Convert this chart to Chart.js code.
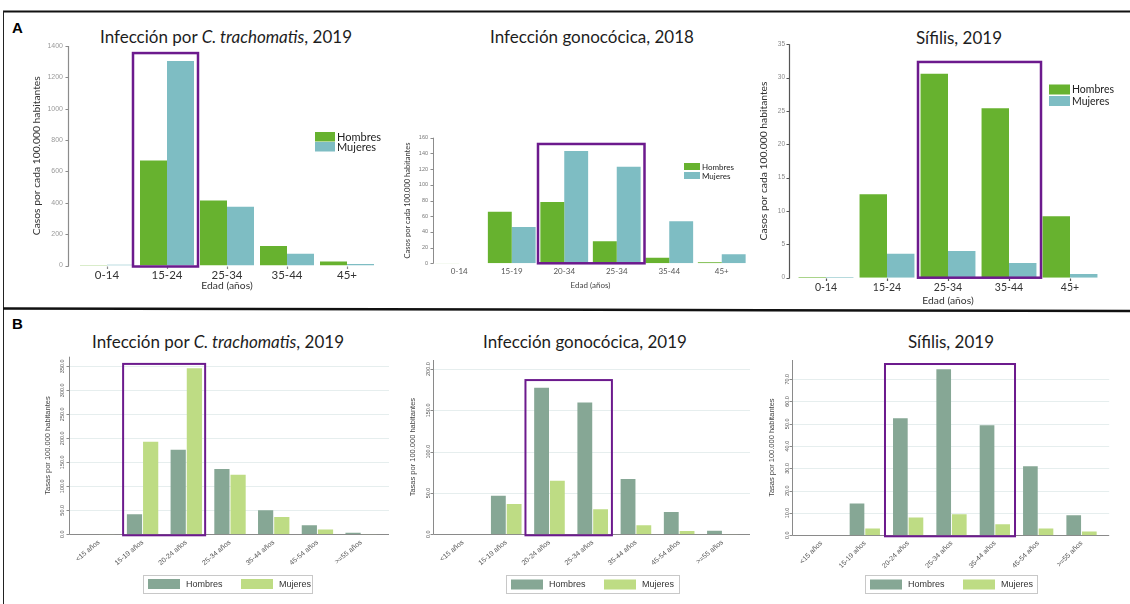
<!DOCTYPE html>
<html>
<head>
<meta charset="utf-8">
<script src="https://cdn.jsdelivr.net/npm/chart.js@4.4.1/dist/chart.umd.min.js"></script>
<style>
  html, body { margin: 0; padding: 0; background: #fff; }
  #fig { position: relative; width: 1130px; height: 604px; overflow: hidden; background: #fff; }
  #fig canvas { position: absolute; }
  .ttl { position: absolute; transform: translate(-50%, -50%); white-space: nowrap;
         font-family: Lato, "Open Sans", sans-serif; font-size: 17px; line-height: 1; color: #1d1d1d; }
  .tag { position: absolute; font-family: "Liberation Sans", Arial, sans-serif; font-weight: bold;
         font-size: 15px; line-height: 1; color: #000; }
</style>
</head>
<body>
<div id="fig">
  <svg width="1130" height="604" style="position:absolute;left:0;top:0">
    <line x1="3" y1="11.5" x2="1130" y2="11.5" stroke="#111" stroke-width="2"/>
    <line x1="3.5" y1="11" x2="3.5" y2="604" stroke="#222" stroke-width="1"/>
    <line x1="3" y1="308.5" x2="1130" y2="311" stroke="#111" stroke-width="2.5"/>
  </svg>
  <div class="tag" style="left:12px;top:20px">A</div>
  <div class="tag" style="left:12px;top:316px">B</div>
  <div class="ttl" style="left:226px;top:36px">Infección por <i>C. trachomatis</i>, 2019</div>
  <div class="ttl" style="left:592px;top:36px">Infección gonocócica, 2018</div>
  <div class="ttl" style="left:959px;top:37px">Sífilis, 2019</div>
  <div class="ttl" style="left:218px;top:341px">Infección por <i>C. trachomatis</i>, 2019</div>
  <div class="ttl" style="left:585px;top:341px">Infección gonocócica, 2019</div>
  <div class="ttl" style="left:951px;top:341px">Sífilis, 2019</div>
</div>
<script>
// ---- age groups ----
const edadCT_A  = ['0-14', '15-24', '25-34', '35-44', '45+'];
const edadNG_A  = ['0-14', '15-19', '20-34', '25-34', '35-44', '45+'];
const edadSif_A = ['0-14', '15-24', '25-34', '35-44', '45+'];
const edadB     = ['<15 años', '15-19 años', '20-24 años', '25-34 años', '35-44 años', '45-54 años', '>=55 años'];

// ---- A: casos por cada 100.000 habitantes ----
const ctA_hombres  = [3, 670, 415, 125, 25];
const ctA_mujeres  = [5, 1305, 375, 75, 10];
const ngA_hombres  = [0.5, 65.7, 78, 28, 7.2, 1.3];
const ngA_mujeres  = [0.2, 46.2, 143, 123, 53.5, 11.5];
const sifA_hombres = [0.1, 12.5, 30.6, 25.4, 9.2];
const sifA_mujeres = [0.1, 3.6, 4.0, 2.2, 0.55];

// ---- B: tasas por 100.000 habitantes ----
const ctB_hombres  = [0, 42, 176, 136, 50, 19, 3];
const ctB_mujeres  = [0.5, 193, 346, 124, 36, 10, 0.8];
const ngB_hombres  = [0, 46.7, 177.4, 159.7, 66.9, 27, 4.4];
const ngB_mujeres  = [0, 36.7, 64.9, 30.2, 10.9, 4, 0.5];
const sifB_hombres = [0, 14.3, 52.5, 74.5, 49.3, 31, 9];
const sifB_mujeres = [0, 3.1, 8, 9.4, 4.9, 3.1, 1.7];

// ---- y tick steps (ticks run from 0 by this step) ----
const pasoCT_A = 200, pasoNG_A = 20, pasoSif_A = 5;
const pasoCT_B = 50,  pasoNG_B = 50, pasoSif_B = 10;

// ---- highlighted age ranges ----
const focoCT_A  = ['15-24', '15-24'];
const focoNG_A  = ['20-34', '25-34'];
const focoSif_A = ['25-34', '35-44'];
const focoCT_B  = ['15-19 años', '20-24 años'];
const focoNG_B  = ['20-24 años', '25-34 años'];
const focoSif_B = ['20-24 años', '35-44 años'];

const COLORS_A = ['#67b22f', '#7ebdc3'];
const COLORS_B = ['#86a795', '#bedc84'];
const PURPLE = '#6c1a8d';

// Axis lines, tick marks and grid drawn slightly detached from the first category
const axisFrame = {
  id: 'axisFrame',
  beforeDatasetsDraw(chart, args, o) {
    const { ctx, chartArea: ca, scales: { x, y } } = chart;
    const ax = Math.round(ca.left - o.gap) + 0.5;
    const y0 = Math.round(y.getPixelForValue(0)) + 0.5;
    const right = ca.right + o.xExtra;
    ctx.save();
    if (o.gridColor) {
      ctx.strokeStyle = o.gridColor; ctx.lineWidth = 1;
      y.ticks.forEach(t => {
        if (t.value === 0) return;
        const py = Math.round(y.getPixelForValue(t.value)) + 0.5;
        ctx.beginPath(); ctx.moveTo(ax, py); ctx.lineTo(right, py); ctx.stroke();
      });
    }
    ctx.strokeStyle = o.color; ctx.lineWidth = o.width;
    ctx.beginPath();
    ctx.moveTo(ax, ca.top); ctx.lineTo(ax, y0);
    if (o.tickLen) y.ticks.forEach(t => {
      const py = Math.round(y.getPixelForValue(t.value)) + 0.5;
      ctx.moveTo(ax - o.tickLen, py); ctx.lineTo(ax, py);
    });
    if (o.xLine) { ctx.moveTo(ax, y0); ctx.lineTo(right, y0); }
    if (o.xTickLen) x.ticks.forEach((t, i) => {
      const px = Math.round(x.getPixelForValue(i)) + 0.5;
      ctx.moveTo(px, y0); ctx.lineTo(px, y0 + o.xTickLen);
    });
    ctx.stroke();
    ctx.restore();
  }
};

// Frame around a range of age groups
const ageBox = {
  id: 'ageBox',
  afterDatasetsDraw(chart, args, o) {
    const { ctx, scales: { x, y } } = chart;
    const labels = chart.data.labels;
    const i0 = labels.indexOf(o.range[0]), i1 = labels.indexOf(o.range[1]);
    const half = (x.getPixelForValue(1) - x.getPixelForValue(0)) / 2;
    const left = x.getPixelForValue(i0) - half + o.inset[0];
    const right = x.getPixelForValue(i1) + half + o.inset[1];
    const top = y.getPixelForValue(o.top);
    const bottom = y.getPixelForValue(0) + o.below;
    ctx.save();
    ctx.strokeStyle = o.color; ctx.lineWidth = o.width;
    ctx.strokeRect(left, top, right - left, bottom - top);
    ctx.restore();
  }
};

// Legend built from the datasets: stacked swatches (A) or boxed row (B)
const sexLegend = {
  id: 'sexLegend',
  afterDraw(chart, args, o) {
    const { ctx } = chart;
    const ds = chart.data.datasets;
    ctx.save();
    ctx.font = o.font;
    ctx.fillStyle = o.textColor;
    ctx.textBaseline = 'middle';
    if (o.kind === 'stack') {
      const x = o.x - o.ox, y = o.y - o.oy;
      ds.forEach((d, i) => {
        const yy = y + i * (o.sh + o.gap);
        ctx.fillStyle = d.backgroundColor;
        ctx.fillRect(x, yy, o.sw, o.sh);
        ctx.fillStyle = o.textColor;
        ctx.fillText(d.label, x + o.sw + 2, yy + o.sh / 2 + 0.5);
      });
    } else {
      const bx = o.x - o.ox, by = o.y - o.oy;
      ctx.strokeStyle = o.boxColor; ctx.lineWidth = 1;
      ctx.strokeRect(Math.round(bx) + 0.5, Math.round(by) + 0.5, o.w, o.h);
      ds.forEach((d, i) => {
        const sx = bx + 5 + i * o.step;
        const sy = by + (o.h - o.sh) / 2 + 0.5;
        ctx.fillStyle = d.backgroundColor;
        ctx.fillRect(sx, sy, o.sw, o.sh);
        ctx.fillStyle = o.textColor;
        ctx.fillText(d.label, sx + o.sw + 6, by + o.h / 2 + 1);
      });
    }
    ctx.restore();
  }
};

function addCanvas(box) {
  const c = document.createElement('canvas');
  c.width = box[2]; c.height = box[3];
  c.style.left = box[0] + 'px'; c.style.top = box[1] + 'px';
  c.style.width = box[2] + 'px'; c.style.height = box[3] + 'px';
  document.getElementById('fig').appendChild(c);
  return c;
}

function buildChart(s) {
  const canvas = addCanvas(s.box);
  const step = s.step;
  const legend = Object.assign({ ox: s.box[0], oy: s.box[1] }, s.legend);
  return new Chart(canvas, {
    type: 'bar',
    data: {
      labels: s.labels,
      datasets: [
        { label: 'Hombres', data: s.hombres, backgroundColor: s.colors[0],
          categoryPercentage: s.catPct, barPercentage: s.barPct },
        { label: 'Mujeres', data: s.mujeres, backgroundColor: s.colors[1],
          categoryPercentage: s.catPct, barPercentage: s.barPct }
      ]
    },
    options: {
      responsive: false, animation: false, devicePixelRatio: 1, events: [],
      layout: { padding: s.pad },
      plugins: {
        legend: { display: false }, tooltip: { enabled: false },
        axisFrame: s.frame, ageBox: s.box2, sexLegend: legend
      },
      scales: {
        x: {
          grid: { display: false, drawTicks: false }, border: { display: false },
          ticks: Object.assign({ autoSkip: false }, s.xTicks),
          title: s.xTitle ? s.xTitle : { display: false },
          afterFit: sc => {
            sc.height = s.xH;
            sc.paddingLeft = 0; sc.paddingRight = 0;
          }
        },
        y: {
          min: 0, max: s.yMax,
          grid: { display: false, drawTicks: false }, border: { display: false },
          ticks: Object.assign({ autoSkip: false }, s.yTicks),
          title: s.yTitle,
          // ticks only at whole steps from zero, never at the axis end
          afterBuildTicks: sc => {
            const ticks = [];
            for (let v = 0; v <= s.yMax + 1e-9; v += step) ticks.push({ value: v });
            sc.ticks = ticks;
          },
          afterFit: sc => {
            sc.width = s.yW;
            sc.paddingTop = 0; sc.paddingBottom = 0;
          }
        }
      }
    },
    plugins: [axisFrame, ageBox, sexLegend]
  });
}

const LATO = 'Lato, "Open Sans", sans-serif';
const ARIAL = '"Liberation Sans", Arial, sans-serif';
const fmt0 = v => String(v);
const fmt1 = v => Number(v).toFixed(1);

// ---------- A1: C. trachomatis ----------
buildChart({
  box: [0, 40, 390, 262], pad: { top: 6, right: 13, left: 0, bottom: 0 },
  labels: edadCT_A, hombres: ctA_hombres, mujeres: ctA_mujeres, colors: COLORS_A,
  catPct: 0.9, barPct: 1.0, yMax: 1400, step: pasoCT_A, yW: 77, xH: 36.5,
  yTicks: { font: { family: ARIAL, size: 7 }, color: '#9a9a9a', padding: 14, callback: fmt0 },
  yTitle: { display: true, text: 'Casos por cada 100.000 habitantes', color: '#333',
            font: { family: LATO, size: 10.3 }, padding: { top: 30.8, bottom: 0 } },
  xTicks: { font: { family: LATO, size: 11.5 }, color: '#333', padding: 2.5 },
  xTitle: { display: true, text: 'Edad (años)', color: '#333',
            font: { family: LATO, size: 10.3 }, padding: { top: 0, bottom: 9.8 } },
  frame: { gap: 9, color: '#8c8c8c', width: 1.2, tickLen: 3, xLine: false, xTickLen: 2.5, xExtra: 0 },
  box2: { range: focoCT_A, inset: [-4, 1], top: 1355, below: 1, color: PURPLE, width: 2.5 },
  legend: { kind: 'stack', x: 315, y: 132, sw: 20, sh: 9.5, gap: 0.5,
            font: '11px ' + LATO, textColor: '#222' }
});

// ---------- A2: gonococo 2018 ----------
buildChart({
  box: [390, 100, 370, 202], pad: { top: 37.7, right: 12, left: 0, bottom: 0 },
  labels: edadNG_A, hombres: ngA_hombres, mujeres: ngA_mujeres, colors: COLORS_A,
  catPct: 0.91, barPct: 1.0, yMax: 160, step: pasoNG_A, yW: 43, xH: 38.7,
  yTicks: { font: { family: ARIAL, size: 5.5 }, color: '#777', padding: 5, callback: fmt0 },
  yTitle: { display: true, text: 'Casos por cada 100.000 habitantes', color: '#333',
            font: { family: LATO, size: 7.5 }, padding: { top: 13.5, bottom: 0 } },
  xTicks: { font: { family: LATO, size: 8 }, color: '#555', padding: 3 },
  xTitle: { display: true, text: 'Edad (años)', color: '#444',
            font: { family: LATO, size: 8 }, padding: { top: 0, bottom: 12.2 } },
  frame: { gap: 0, color: '#8c8c8c', width: 1, tickLen: 3, xLine: false, xTickLen: 0, xExtra: 0 },
  box2: { range: focoNG_A, inset: [0, 1.5], top: 152, below: 0, color: PURPLE, width: 2.5 },
  legend: { kind: 'stack', x: 684, y: 163, sw: 16, sh: 7, gap: 2,
            font: '8px ' + LATO, textColor: '#222' }
});

// ---------- A3: sífilis 2019 ----------
buildChart({
  box: [755, 40, 375, 270], pad: { top: 4.3, right: 29.5, left: 0, bottom: 0 },
  labels: edadSif_A, hombres: sifA_hombres, mujeres: sifA_mujeres, colors: COLORS_A,
  catPct: 0.9, barPct: 1.0, yMax: 35, step: pasoSif_A, yW: 40.5, xH: 32.3,
  yTicks: { font: { family: ARIAL, size: 6.5 }, color: '#8a8a8a', padding: 10.5, callback: fmt0 },
  yTitle: { display: true, text: 'Casos por cada 100.000 habitantes', color: '#333',
            font: { family: LATO, size: 10.3 }, padding: { top: 2.8, bottom: 0 } },
  xTicks: { font: { family: LATO, size: 10.5 }, color: '#333', padding: 3.5 },
  xTitle: { display: true, text: 'Edad (años)', color: '#333',
            font: { family: LATO, size: 10.3 }, padding: { top: 0, bottom: 2.8 } },
  frame: { gap: 6.5, color: '#555', width: 1.2, tickLen: 3, xLine: false, xTickLen: 2.5, xExtra: 0 },
  box2: { range: focoSif_A, inset: [0.5, 1.5], top: 32.35, below: 0, color: PURPLE, width: 2.5 },
  legend: { kind: 'stack', x: 1049, y: 84.5, sw: 21, sh: 10, gap: 1.5,
            font: '10.5px ' + LATO, textColor: '#222' }
});

// ---------- B common ----------
const yTicksB = { font: { family: ARIAL, size: 5.5 }, color: '#555', minRotation: 90, maxRotation: 90,
                  crossAlign: 'center', callback: fmt1 };
const yTitleB = (pad) => ({ display: true, text: 'Tasas por 100.000 habitantes', color: '#444',
                            font: { family: ARIAL, size: 7.5 }, padding: { top: pad, bottom: 0 } });
const frameB = (gap) => ({ gap: gap, color: '#8a8a8a', width: 1, tickLen: 3, xLine: true, xTickLen: 0,
                           xExtra: 6, gridColor: '#e6eeee' });
const legendB = (x, y, w) => ({ kind: 'row', x: x, y: y, w: w, h: 18, sw: 32, sh: 10, step: 93,
                                boxColor: '#c8c8c8', font: '9px ' + ARIAL, textColor: '#333' });

// ---------- B1: C. trachomatis ----------
buildChart({
  box: [0, 345, 395, 259], pad: { top: 11.7, right: 12, left: 0, bottom: 0 },
  labels: edadB, hombres: ctB_hombres, mujeres: ctB_mujeres, colors: COLORS_B,
  catPct: 0.74, barPct: 0.94, yMax: 370, step: pasoCT_B, yW: 77, xH: 69.7,
  yTicks: Object.assign({ padding: 8 }, yTicksB), yTitle: yTitleB(43.5),
  xTicks: { font: { family: ARIAL, size: 7 }, color: '#555', padding: 4, minRotation: 40, maxRotation: 40 },
  frame: frameB(8.5),
  box2: { range: focoCT_B, inset: [2.4, -3], top: 355, below: 1, color: PURPLE, width: 2 },
  legend: legendB(143, 574.5, 169)
});

// ---------- B2: gonococo 2019 ----------
buildChart({
  box: [395, 345, 370, 259], pad: { top: 15, right: 21, left: 0, bottom: 0 },
  labels: edadB, hombres: ngB_hombres, mujeres: ngB_mujeres, colors: COLORS_B,
  catPct: 0.73, barPct: 0.94, yMax: 211, step: pasoNG_B, yW: 46.4, xH: 69.7,
  yTicks: Object.assign({ padding: 6.4 }, yTicksB), yTitle: yTitleB(13.5),
  xTicks: { font: { family: ARIAL, size: 7 }, color: '#555', padding: 4, minRotation: 40, maxRotation: 40 },
  frame: frameB(8.4),
  box2: { range: focoNG_B, inset: [-2.4, -2.4], top: 186.7, below: 1, color: PURPLE, width: 2 },
  legend: legendB(506, 575, 173)
});

// ---------- B3: sífilis 2019 ----------
buildChart({
  box: [765, 345, 365, 259], pad: { top: 15, right: 26.8, left: 0, bottom: 0 },
  labels: edadB, hombres: sifB_hombres, mujeres: sifB_mujeres, colors: COLORS_B,
  catPct: 0.72, barPct: 0.94, yMax: 78.6, step: pasoSif_B, yW: 34.8, xH: 68.7,
  yTicks: Object.assign({ padding: 7.3 }, yTicksB), yTitle: yTitleB(2.2),
  xTicks: { font: { family: ARIAL, size: 7 }, color: '#555', padding: 4, minRotation: 45, maxRotation: 45 },
  frame: frameB(7.5),
  box2: { range: focoSif_B, inset: [-1.5, -1.5], top: 76.8, below: 1, color: PURPLE, width: 2 },
  legend: legendB(865, 575, 172)
});
</script>
</body>
</html>
